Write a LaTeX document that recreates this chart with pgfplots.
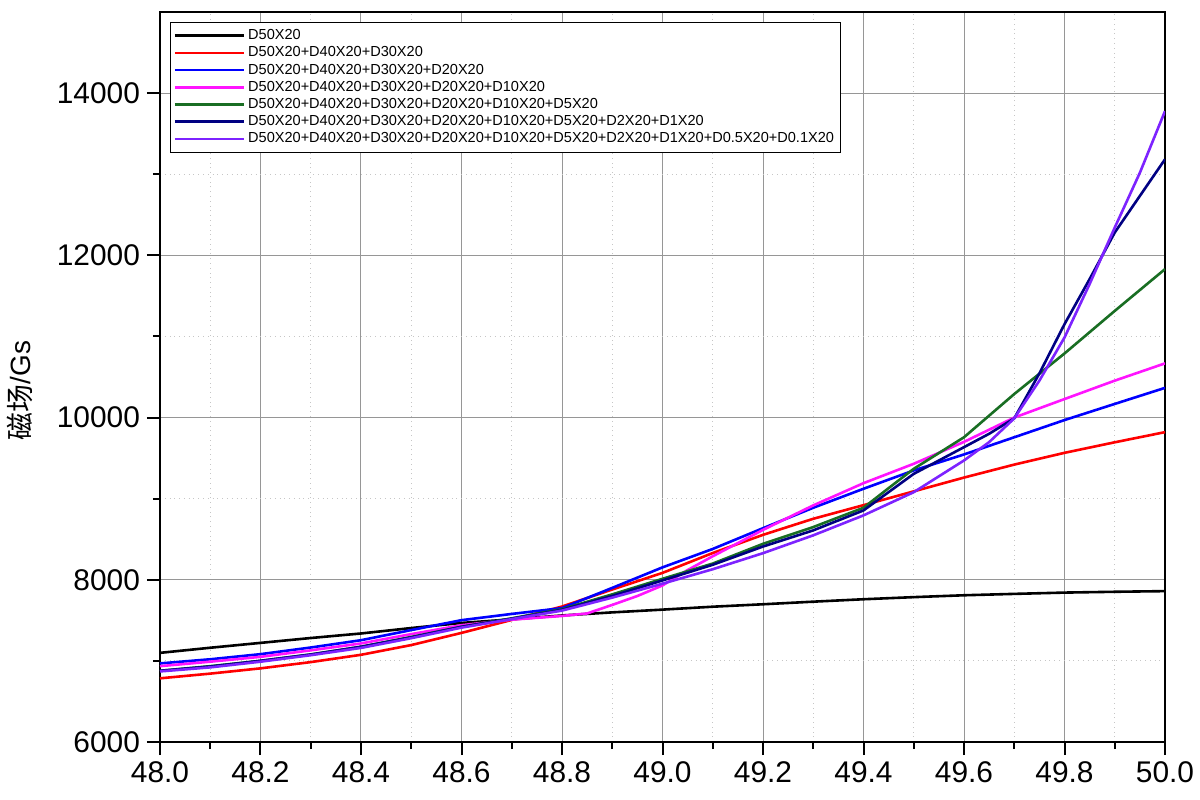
\documentclass[border=0pt]{standalone}
\usepackage{fontspec}
\setmainfont{Liberation Sans}
\newfontfamily\cjk{Noto Sans CJK SC}
\usepackage{pgfplots}
\pgfplotsset{compat=1.18}

\definecolor{dgreen}{RGB}{25,110,35}
\definecolor{navy}{RGB}{0,0,130}
\definecolor{pinkm}{RGB}{255,20,255}
\definecolor{violet2}{RGB}{125,35,255}
\definecolor{gridgray}{RGB}{150,150,150}

\begin{document}
\begin{tikzpicture}
\begin{axis}[
  scale only axis, width=502.5bp, height=365bp,
  xmin=48, xmax=50, ymin=6000, ymax=15000,
  xtick={48,48.2,48.4,48.6,48.8,49,49.2,49.4,49.6,49.8,50},
  ytick={6000,8000,10000,12000,14000},
  minor x tick num=1, minor y tick num=1,
  scaled x ticks=false, scaled y ticks=false,
  grid=both,
  major grid style={gridgray, line width=0.5bp},
  minor grid style={gray!45, dotted, line width=0.5bp},
  axis line style={line width=1.2bp},
  tick pos=left, tick align=outside,
  major tick length=6.5bp, minor tick length=3.5bp,
  every tick/.style={black, line width=1bp},
  x tick label style={/pgf/number format/fixed, /pgf/number format/fixed zerofill, /pgf/number format/precision=1},
  y tick label style={/pgf/number format/1000 sep={}},
  ticklabel style={font=\fontsize{15}{18}\selectfont},
  /pgf/number format/assume math mode=true,
  ylabel={{\cjk 磁场}/Gs},
  every axis y label/.style={at={(axis description cs:-0.1393,0.4815)}, anchor=center, rotate=90, font=\fontsize{14}{16}\selectfont},
  every axis plot/.append style={line width=1.3bp},
  legend cell align=left,
  legend style={at={(axis description cs:0,1)}, anchor=north west, xshift=5bp, yshift=-5bp,
    draw=black, line width=0.6bp, inner xsep=1.5bp, inner ysep=2.8bp,
    font=\fontsize{7.3}{8.5}\selectfont,
    nodes={inner ysep=0.5bp, inner xsep=1.5bp, text height=5.3bp, text depth=1.3bp},
    row sep=1.0bp},
  legend image code/.code={\path (0bp,0bp) -- (19.5bp,0bp); \draw[#1, line width=1.3bp] (19.5bp,0bp) -- (34.5bp,0bp);},
]
% D50X20
\addplot[black] coordinates {
(48.0,7099) (48.1,7162) (48.2,7222) (48.3,7282) (48.4,7338) (48.5,7405) (48.6,7468)
(48.7,7512) (48.8,7560) (48.9,7598) (49.0,7632) (49.1,7668) (49.2,7698) (49.3,7730)
(49.4,7760) (49.5,7786) (49.6,7809) (49.7,7826) (49.8,7842) (49.9,7852) (50.0,7860)};
\addlegendentry{D50X20}
% +D40X20+D30X20
\addplot[red] coordinates {
(48.0,6785) (48.1,6843) (48.2,6908) (48.3,6985) (48.4,7075) (48.5,7195) (48.6,7345)
(48.7,7505) (48.8,7670) (48.9,7880) (49.0,8085) (49.1,8330) (49.2,8554) (49.3,8752)
(49.4,8920) (49.5,9090) (49.6,9260) (49.7,9420) (49.8,9565) (49.9,9695) (50.0,9820)};
\addlegendentry{D50X20+D40X20+D30X20}
% +D20X20
\addplot[blue] coordinates {
(48.0,6969) (48.1,7020) (48.2,7083) (48.3,7165) (48.4,7255) (48.5,7380) (48.6,7502)
(48.7,7579) (48.8,7651) (48.9,7900) (49.0,8153) (49.1,8380) (49.2,8636) (49.3,8888)
(49.4,9122) (49.5,9348) (49.6,9545) (49.7,9757) (49.8,9969) (49.9,10168) (50.0,10366)};
\addlegendentry{D50X20+D40X20+D30X20+D20X20}
% +D10X20
\addplot[pinkm] coordinates {
(48.0,6935) (48.1,6990) (48.2,7050) (48.3,7130) (48.4,7215) (48.5,7330) (48.6,7440)
(48.7,7508) (48.8,7554) (48.85,7585) (48.9,7690) (48.95,7800) (49.0,7930) (49.05,8120)
(49.1,8290) (49.2,8615) (49.3,8917) (49.4,9191) (49.5,9430) (49.6,9700) (49.7,10000)
(49.8,10228) (49.9,10455) (50.0,10668)};
\addlegendentry{D50X20+D40X20+D30X20+D20X20+D10X20}
% +D5X20
\addplot[dgreen] coordinates {
(48.0,6878) (48.1,6935) (48.2,7001) (48.3,7080) (48.4,7174) (48.5,7295) (48.6,7420)
(48.7,7525) (48.8,7638) (48.9,7820) (49.0,8012) (49.1,8200) (49.2,8443) (49.3,8650)
(49.4,8888) (49.45,9130) (49.5,9368) (49.6,9757) (49.7,10290) (49.8,10790) (49.9,11315)
(50.0,11830)};
\addlegendentry{D50X20+D40X20+D30X20+D20X20+D10X20+D5X20}
% +D2X20+D1X20
\addplot[navy] coordinates {
(48.0,6878) (48.1,6930) (48.2,7001) (48.3,7078) (48.4,7174) (48.5,7290) (48.6,7420)
(48.7,7520) (48.8,7630) (48.9,7800) (49.0,7992) (49.1,8185) (49.2,8410) (49.3,8609)
(49.4,8855) (49.5,9306) (49.6,9635) (49.65,9800) (49.7,9990) (49.75,10544) (49.8,11151)
(49.85,11707) (49.9,12281) (50.0,13184)};
\addlegendentry{D50X20+D40X20+D30X20+D20X20+D10X20+D5X20+D2X20+D1X20}
% +D0.5X20+D0.1X20
\addplot[violet2] coordinates {
(48.0,6870) (48.1,6920) (48.2,6990) (48.3,7070) (48.4,7160) (48.5,7280) (48.6,7410)
(48.7,7515) (48.8,7620) (48.9,7780) (49.0,7952) (49.1,8130) (49.2,8328) (49.3,8548)
(49.4,8794) (49.5,9080) (49.6,9471) (49.65,9697) (49.7,9990) (49.75,10455) (49.8,10987)
(49.85,11646) (49.9,12342) (49.95,13018) (50.0,13778)};
\addlegendentry{D50X20+D40X20+D30X20+D20X20+D10X20+D5X20+D2X20+D1X20+D0.5X20+D0.1X20}
\end{axis}
\pgfresetboundingbox
\path (-80bp,-29bp) rectangle (520bp,371bp);
\end{tikzpicture}
\end{document}
